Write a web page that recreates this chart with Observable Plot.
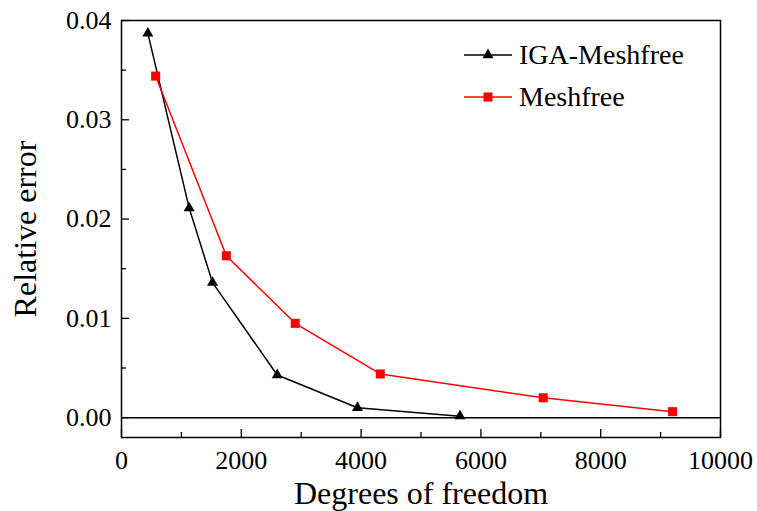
<!DOCTYPE html>
<html>
<head>
<meta charset="utf-8">
<script src="https://cdn.jsdelivr.net/npm/d3@7"></script>
<script src="https://cdn.jsdelivr.net/npm/@observablehq/plot@0.6"></script>
<style>
  body { margin: 0; background: #fff; }
  #chart { position: relative; width: 757px; height: 511px; font-family: "Liberation Serif", "Times New Roman", serif; }
  #legend { position: absolute; left: 462px; top: 34px; }
  .item { display: flex; align-items: center; height: 42px; font-size: 28px; color: #000; }
  .item svg { margin-right: 5px; }
</style>
</head>
<body>
<div id="chart"><div id="legend"></div></div>
<script>
// Convergence of relative error against degrees of freedom
const igaDof = [440, 1130, 1520, 2600, 3940, 5650];
const igaError = [0.0387, 0.0211, 0.0136, 0.0043, 0.0010, 0.00015];
const meshfreeDof = [570, 1750, 2900, 4320, 7040, 9200];
const meshfreeError = [0.0344, 0.0163, 0.0095, 0.0044, 0.0020, 0.0006];

const xMajorTicks = [0, 2000, 4000, 6000, 8000, 10000];
const xMinorTicks = [1000, 3000, 5000, 7000, 9000];
const yMajorTicks = [0.00, 0.01, 0.02, 0.03, 0.04];
const yMinorTicks = [0.005, 0.015, 0.025, 0.035];

const seriesNames = ["IGA-Meshfree", "Meshfree"];
const seriesColors = ["#000000", "#ff0000"];
const seriesSymbols = ["triangle", "square"];

const iga = igaDof.map((d, i) => ({dof: d, error: igaError[i]}));
const meshfree = meshfreeDof.map((d, i) => ({dof: d, error: meshfreeError[i]}));

const serif = "Liberation Serif, Times New Roman, serif";

const plot = Plot.plot({
  width: 757,
  height: 511,
  marginLeft: 121,
  marginRight: 37,
  marginTop: 20,
  marginBottom: 74,
  style: {fontFamily: serif, color: "#000", background: "transparent"},
  x: {domain: [0, 10000]},
  y: {domain: [-0.002, 0.04]},
  marks: [
    // zero reference line
    Plot.ruleY([0], {stroke: "#000", strokeWidth: 1.5}),
    // inward tick marks
    Plot.axisX(xMajorTicks, {anchor: "bottom", tickSize: -8, fill: "none", strokeWidth: 1.3}),
    Plot.axisX(xMinorTicks, {anchor: "bottom", tickSize: -5, fill: "none", strokeWidth: 1.3}),
    Plot.axisY(yMajorTicks, {anchor: "left", tickSize: -8, fill: "none", strokeWidth: 1.3}),
    Plot.axisY(yMinorTicks, {anchor: "left", tickSize: -5, fill: "none", strokeWidth: 1.3}),
    // tick labels
    Plot.axisX(xMajorTicks, {anchor: "bottom", tickSize: 0, tickPadding: 13, fontSize: 26, label: null, tickFormat: d3.format("d")}),
    Plot.axisY(yMajorTicks, {anchor: "left", tickSize: 0, tickPadding: 10, fontSize: 26, label: null, tickFormat: d3.format(".2f")}),
    // axis titles
    Plot.text(["Degrees of freedom"], {frameAnchor: "bottom", lineAnchor: "middle", textAnchor: "middle", dy: 56, fontSize: 32, fill: "#000"}),
    Plot.text(["Relative error"], {frameAnchor: "left", lineAnchor: "middle", textAnchor: "middle", dx: -96, rotate: -90, fontSize: 32, fill: "#000"}),
    // series
    Plot.line(iga, {x: "dof", y: "error", stroke: seriesColors[0], strokeWidth: 1.5}),
    Plot.dot(iga, {x: "dof", y: "error", symbol: seriesSymbols[0], r: 4.1, fill: seriesColors[0]}),
    Plot.line(meshfree, {x: "dof", y: "error", stroke: seriesColors[1], strokeWidth: 1.5}),
    Plot.dot(meshfree, {x: "dof", y: "error", symbol: seriesSymbols[1], r: 5.1, fill: seriesColors[1]}),
    Plot.frame({stroke: "#000", strokeWidth: 1.5})
  ]
});

const chart = document.getElementById("chart");
chart.insertBefore(plot, chart.firstChild);

// legend inside the plot area
const legend = d3.select("#legend");
const symbolTypes = {triangle: d3.symbolTriangle, square: d3.symbolSquare};
const symbolSizes = {triangle: Math.PI * 4.1 * 4.1, square: Math.PI * 5.1 * 5.1};
seriesNames.forEach((name, i) => {
  const item = legend.append("div").attr("class", "item");
  const svg = item.append("svg").attr("width", 52).attr("height", 20);
  svg.append("line").attr("x1", 2).attr("x2", 50).attr("y1", 10).attr("y2", 10)
    .attr("stroke", seriesColors[i]).attr("stroke-width", 1.5);
  svg.append("path").attr("transform", "translate(26,10)")
    .attr("d", d3.symbol(symbolTypes[seriesSymbols[i]], symbolSizes[seriesSymbols[i]])())
    .attr("fill", seriesColors[i]);
  item.append("span").text(name);
});
</script>
</body>
</html>
